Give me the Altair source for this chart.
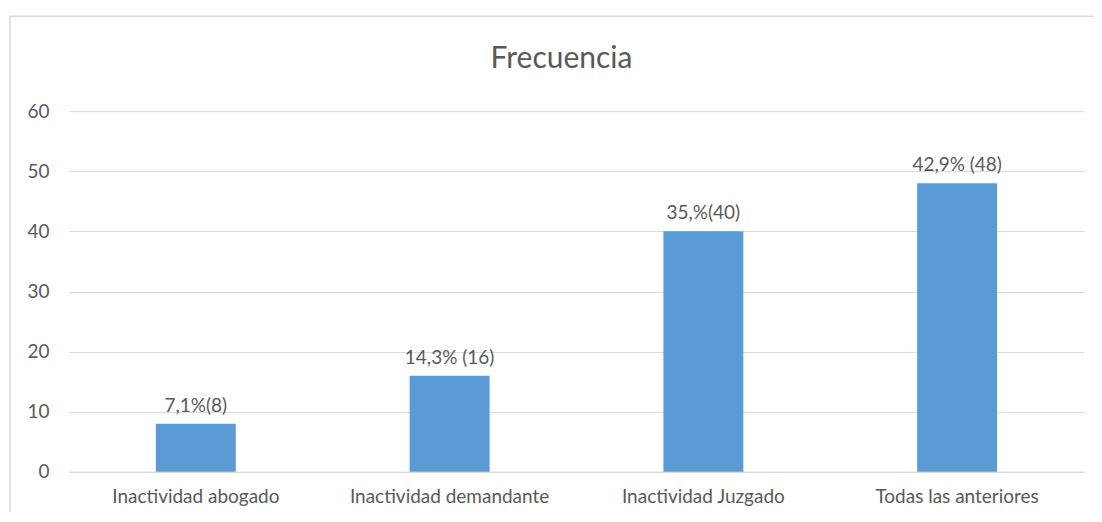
import altair as alt
import pandas as pd

categories = ["Inactividad abogado", "Inactividad demandante", "Inactividad Juzgado", "Todas las anteriores"]
values = [8, 16, 40, 48]
labels = ["7,1%(8)", "14,3% (16)", "35,%(40)", "42,9% (48)"]

df = pd.DataFrame({"cat": categories, "val": values, "lab": labels})

FONT = "Lato"
TXT = "#595959"
GRID = "#D9D9D9"

x = alt.X("cat:N", sort=categories, title=None,
          scale=alt.Scale(paddingInner=0, paddingOuter=0),
          axis=alt.Axis(labelAngle=0, labelFontSize=19, labelColor=TXT, labelFont=FONT,
                        labelLimit=0, ticks=False, domainColor=GRID, labelPadding=16))
y = alt.Y("val:Q", title=None,
          scale=alt.Scale(domain=[0, 60]),
          axis=alt.Axis(values=[0, 10, 20, 30, 40, 50, 60], labelFontSize=19, labelColor=TXT,
                        labelFont=FONT, ticks=False, domain=False, gridColor=GRID,
                        labelPadding=20))

bars = alt.Chart(df).mark_bar(size=80, color="#5B9BD5").encode(x=x, y=y)
text = alt.Chart(df).mark_text(baseline="alphabetic", dy=-12, fontSize=19, font=FONT, color=TXT).encode(
    x=alt.X("cat:N", sort=categories), y="val:Q", text="lab:N")

title = alt.Chart(pd.DataFrame({"t": ["Frecuencia"]})).mark_text(
    fontSize=30, font=FONT, color=TXT, baseline="alphabetic", align="center").encode(
    x=alt.value(493), y=alt.value(-43), text="t:N")

border = alt.Chart(pd.DataFrame({"a": [0]})).mark_rect(
    fill=None, stroke=GRID, strokeWidth=1.5).encode(
    x=alt.value(-59), x2=alt.value(1100), y=alt.value(-95), y2=alt.value(500))

chart = alt.layer(border, bars, text, title).properties(
    width=1016, height=361,
    background="white",
    autosize=alt.AutoSizeParams(type="none"),
    padding={"left": 61, "top": 103, "right": 10, "bottom": 40},
).configure_view(strokeWidth=0, stroke=None)

chart.save("out.html", embed_options={"renderer": "svg", "actions": False})
